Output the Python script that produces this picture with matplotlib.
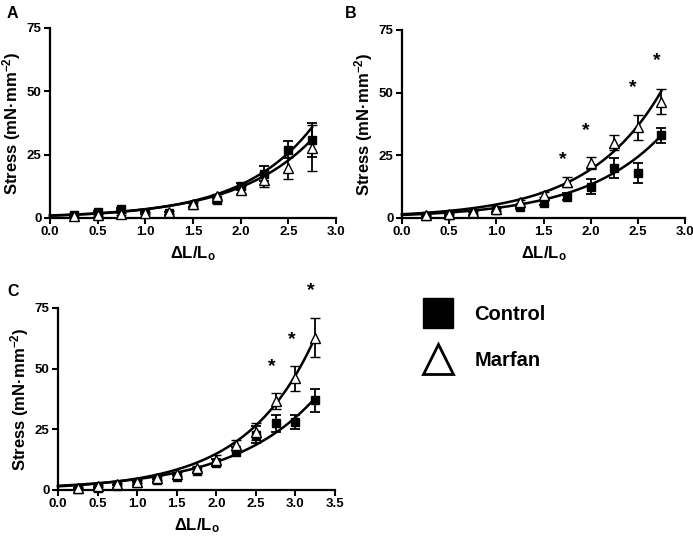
import numpy as np
import matplotlib
matplotlib.use("Agg")
import matplotlib.pyplot as plt
from matplotlib.lines import Line2D

plt.rcParams['font.family'] = ['Liberation Sans', 'DejaVu Sans']
plt.rcParams['font.weight'] = 'bold'
plt.rcParams['mathtext.fontset'] = 'custom'
plt.rcParams['mathtext.rm'] = 'Liberation Sans:bold'
plt.rcParams['mathtext.bf'] = 'Liberation Sans:bold'
plt.rcParams['mathtext.it'] = 'Liberation Sans:bold'

# ---- Data ----
x_A = [0.25, 0.5, 0.75, 1.0, 1.25, 1.5, 1.75, 2.0, 2.25, 2.5, 2.75]
ctrl_A = [1.2, 2.4, 3.5, 2.0, 1.8, 5.0, 7.0, 12.5, 17.5, 26.9, 30.8]
ctrl_A_err = [0.5, 0.5, 0.5, 0.5, 0.5, 0.8, 1.0, 1.5, 3.0, 3.3, 6.6]
marf_A = [0.8, 1.2, 1.5, 2.0, 2.2, 5.5, 8.5, 11.2, 15.0, 19.7, 27.7]
marf_A_err = [0.3, 0.3, 0.4, 0.5, 0.6, 0.8, 1.0, 1.5, 2.8, 4.5, 9.0]

x_B = [0.25, 0.5, 0.75, 1.0, 1.25, 1.5, 1.75, 2.0, 2.25, 2.5, 2.75]
ctrl_B = [0.6, 1.0, 1.8, 3.0, 4.3, 6.0, 8.5, 12.5, 20.0, 18.0, 33.1]
ctrl_B_err = [0.3, 0.4, 0.5, 0.6, 0.8, 1.0, 1.3, 3.0, 4.0, 4.0, 3.0]
marf_B = [1.0, 1.5, 2.2, 3.5, 6.5, 9.2, 14.5, 22.0, 30.0, 36.2, 46.4]
marf_B_err = [0.3, 0.4, 0.5, 0.6, 0.8, 1.0, 2.0, 2.5, 3.0, 5.0, 5.0]
star_B_x = [1.75, 2.0, 2.5, 2.75]
star_B_y = [23.5, 35.0, 52.1, 63.0]

x_C = [0.25, 0.5, 0.75, 1.0, 1.25, 1.5, 1.75, 2.0, 2.25, 2.5, 2.75, 3.0, 3.25]
ctrl_C = [0.5, 1.0, 1.5, 2.8, 4.0, 5.5, 8.0, 11.3, 15.8, 22.7, 27.5, 28.0, 37.0]
ctrl_C_err = [0.3, 0.4, 0.5, 0.6, 0.7, 0.8, 1.0, 1.3, 1.8, 3.5, 3.5, 3.0, 4.8]
marf_C = [1.0, 1.5, 2.5, 3.5, 5.0, 6.5, 9.0, 12.4, 18.5, 24.0, 36.5, 46.0, 62.7]
marf_C_err = [0.3, 0.4, 0.5, 0.6, 0.7, 0.8, 1.0, 2.0, 2.3, 3.5, 3.3, 5.0, 8.0]
star_C_x = [2.75, 3.0, 3.25]
star_C_y = [50.7, 62.0, 82.0]

# exponential fit parameters y = a*exp(b*x)
fit_A = {'ctrl': (0.9, 1.34), 'marf': (1.0, 1.25)}
fit_B = {'ctrl': (1.2, 1.205), 'marf': (1.5, 1.28)}
fit_C = {'ctrl': (1.73, 0.95), 'marf': (1.5, 1.15)}

fig = plt.figure(figsize=(6.93, 5.37), dpi=100)

W, H = 693, 537
def rect(l, r, t, b):
    return [l / W, 1 - b / H, (r - l) / W, (b - t) / H]

axA = fig.add_axes(rect(50, 336, 28, 218))
axB = fig.add_axes(rect(402, 685, 30, 218))
axC = fig.add_axes(rect(58, 335, 308, 490))

def style(ax, xmax, xticks):
    ax.set_xlim(0, xmax)
    ax.set_ylim(0, 75)
    ax.set_xticks(xticks)
    ax.set_xticklabels([f"{t:.1f}" for t in xticks])
    ax.set_yticks([0, 25, 50, 75])
    for s in ['top', 'right']:
        ax.spines[s].set_visible(False)
    for s in ['left', 'bottom']:
        ax.spines[s].set_linewidth(1.6)
    ax.tick_params(width=1.5, length=4, labelsize=9.5, pad=2)
    for lab in ax.get_xticklabels() + ax.get_yticklabels():
        lab.set_fontweight('bold')
    ax.set_xlabel(r'ΔL/L$_{\mathbf{o}}$', fontsize=12, fontweight='bold', labelpad=4)
    ax.set_ylabel(r'Stress (mN·mm$^{\mathbf{-2}}$)', fontsize=12, fontweight='bold', labelpad=3)

def draw(ax, x, c, ce, m, me, fit):
    ax.errorbar(x, c, yerr=ce, fmt='s', color='black', ms=5.8, mfc='black',
                mec='black', ecolor='black', elinewidth=1.3, capsize=3.5,
                capthick=1.3, clip_on=False, zorder=3)
    ax.errorbar(x, m, yerr=me, fmt='^', color='black', ms=6.5, mfc='white',
                mec='black', mew=1.0, ecolor='black', elinewidth=1.3, capsize=3.5,
                capthick=1.3, clip_on=False, zorder=4)
    xs = np.linspace(0, max(x), 200)
    for key in ['ctrl', 'marf']:
        a, b = fit[key]
        ax.plot(xs, a * np.exp(b * xs), color='black', lw=1.8, zorder=2, clip_on=False)

def stars(ax, sx, sy):
    for xx, yy in zip(sx, sy):
        ax.text(xx - 0.05, yy, '*', ha='center', va='center', fontsize=14,
                fontweight='bold', clip_on=False)

style(axA, 3.0, [0.0, 0.5, 1.0, 1.5, 2.0, 2.5, 3.0])
draw(axA, x_A, ctrl_A, ctrl_A_err, marf_A, marf_A_err, fit_A)

style(axB, 3.0, [0.0, 0.5, 1.0, 1.5, 2.0, 2.5, 3.0])
draw(axB, x_B, ctrl_B, ctrl_B_err, marf_B, marf_B_err, fit_B)
stars(axB, star_B_x, star_B_y)

style(axC, 3.5, [0.0, 0.5, 1.0, 1.5, 2.0, 2.5, 3.0, 3.5])
draw(axC, x_C, ctrl_C, ctrl_C_err, marf_C, marf_C_err, fit_C)
stars(axC, star_C_x, star_C_y)

# panel letters
fig.text(7 / W, 1 - 13 / H, 'A', fontsize=11.5, fontweight='bold', va='center')
fig.text(345 / W, 1 - 13 / H, 'B', fontsize=11.5, fontweight='bold', va='center')
fig.text(7 / W, 1 - 292 / H, 'C', fontsize=11.5, fontweight='bold', va='center')

# legend
handles = [Line2D([], [], marker='s', ls='none', color='black', ms=21, mfc='black'),
           Line2D([], [], marker='^', ls='none', color='black', ms=22, mfc='white', mew=2)]
fig.legend(handles, ['Control', 'Marfan'], loc='upper left',
           bbox_to_anchor=(424 / W, 1 - 305 / H), frameon=False,
           prop={'size': 14.5, 'weight': 'bold'}, handlelength=1.4,
           handletextpad=1.1, labelspacing=1.35, borderpad=0, borderaxespad=0)

fig.savefig('out.png', dpi=100)
